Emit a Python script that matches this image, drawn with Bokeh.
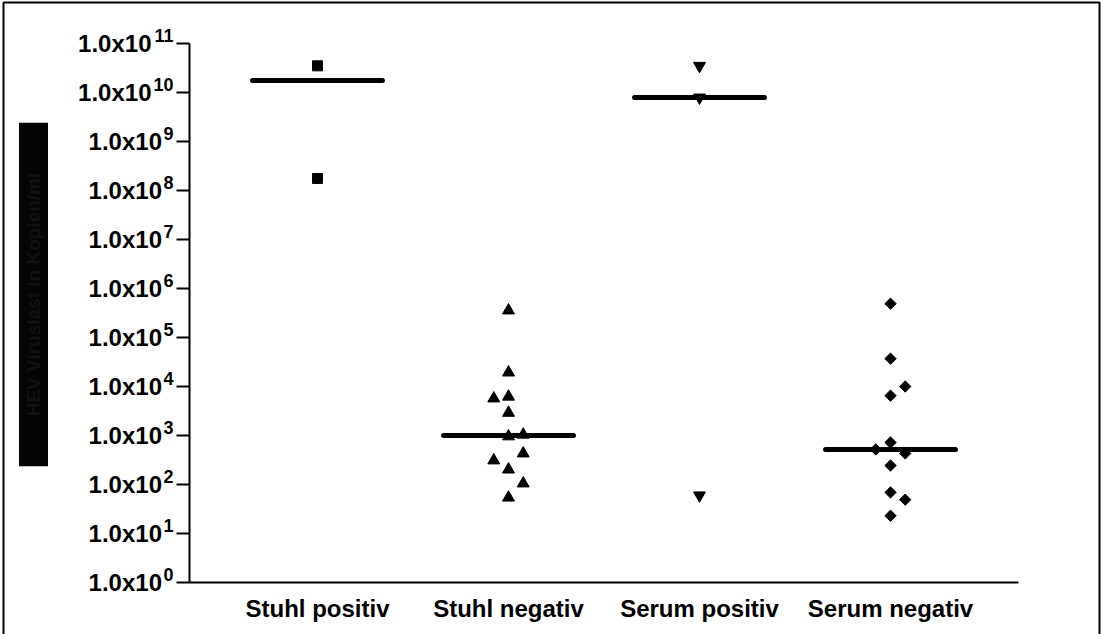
import math
import numpy as np
from bokeh.plotting import figure
from bokeh.models import (Label, BoxAnnotation, FixedTicker, Range1d,
                          CustomJSTickFormatter)
from bokeh.embed import file_html
from bokeh.resources import INLINE

# --- data -------------------------------------------------------------
categories = ["Stuhl positiv", "Stuhl negativ", "Serum positiv", "Serum negativ"]

stuhl_positiv = [3.5e10, 1.76e8]
stuhl_positiv_jit = [0, 0]

stuhl_negativ = [356000, 19300, 5700, 6200, 2900, 960, 1040, 430, 310, 202, 105, 54]
stuhl_negativ_jit = [0, 0, -1, 0, 0, 0, 1, 1, -1, 0, 1, 0]

serum_positiv = [3.5e10, 7.9e9, 60]
serum_positiv_jit = [0, 0, 0]

serum_negativ = [490000, 37000, 10000, 6500, 720, 520, 430, 244, 69, 49, 23]
serum_negativ_jit = [0, 0, 1, 0, 0, -1, 1, 0, 0, 1, 0]

tick_exponents = list(range(0, 12))
tick_base = "1.0x10"
y_label = "HEV Viruslast in Kopien/ml"

# --- geometry (pixels of the page) ------------------------------------
W, H = 1102, 634
X0_PX, X_STEP = 317.0, 191.0          # centre of first column, column spacing
Y_TOP_PX, Y_BOT_PX = 43.0, 582.0      # positions of 10^11 and 10^0
Y_DEC = (Y_BOT_PX - Y_TOP_PX) / 11.0  # pixels per decade
JIT = 0.077


def px_to_x(px):
    return (px - X0_PX) / X_STEP


def py_to_y(py):
    return 10.0 ** (11.0 - (py - Y_TOP_PX) / Y_DEC)


AXIS_X = px_to_x(189)

p = figure(width=W, height=H, output_backend="svg", toolbar_location=None,
           y_axis_type="log",
           x_range=Range1d(px_to_x(0), px_to_x(W)),
           y_range=Range1d(py_to_y(H), py_to_y(0)),
           min_border=0, min_border_left=0, min_border_right=0,
           min_border_top=0, min_border_bottom=0)
p.title.visible = False
p.outline_line_color = None
p.grid.visible = False
p.background_fill_color = "white"
p.border_fill_color = "white"

# y axis: ticks only; labels with superscripts are added below
p.yaxis.fixed_location = AXIS_X
p.yaxis.bounds = (1.0, 1e11)
p.yaxis.ticker = FixedTicker(ticks=[10.0 ** k for k in tick_exponents], minor_ticks=[])
p.yaxis.formatter = CustomJSTickFormatter(code="return ''")
p.yaxis.axis_line_width = 2
p.yaxis.major_tick_line_width = 2
p.yaxis.major_tick_out = 13
p.yaxis.major_tick_in = 0
p.yaxis.minor_tick_out = 0
p.yaxis.minor_tick_in = 0

# x axis: category names
p.xaxis.fixed_location = 1.0
p.xaxis.bounds = (AXIS_X, 3 - AXIS_X)
p.xaxis.ticker = FixedTicker(ticks=list(range(len(categories))))
p.xaxis.major_label_overrides = {i: c for i, c in enumerate(categories)}
p.xaxis.axis_line_width = 2
p.xaxis.major_tick_out = 0
p.xaxis.major_tick_in = 0
p.xaxis.minor_tick_out = 0
p.xaxis.major_label_standoff = 12
p.xaxis.major_label_text_font = "Liberation Sans"
p.xaxis.major_label_text_font_style = "bold"
p.xaxis.major_label_text_font_size = "24px"
p.xaxis.major_label_text_color = "black"

groups = [
    (stuhl_positiv, stuhl_positiv_jit, "square", 10, 0),
    (stuhl_negativ, stuhl_negativ_jit, "triangle", 12, 0),
    (serum_positiv, serum_positiv_jit, "inverted_triangle", 12, 0),
    (serum_negativ, serum_negativ_jit, "square", 8, math.pi / 4),
]

for i, (vals, jit, marker, size, ang) in enumerate(groups):
    xs = [i + j * JIT for j in jit]
    p.scatter(xs, vals, marker=marker, size=size, angle=ang,
              fill_color="black", line_color="black")
    med = float(np.median(vals))
    p.segment(x0=[i - 0.34], x1=[i + 0.34], y0=[med], y1=[med],
              line_color="black", line_width=5, line_cap="round")

# y tick labels with superscript exponents
LABEL_RIGHT = 173
EXP_FS = 18
for k in tick_exponents:
    e = str(k)
    ew = len(e) * 10.5 + 1
    p.add_layout(Label(x=LABEL_RIGHT, x_units="screen", y=10.0 ** k, text=e,
                       text_align="right", text_baseline="middle", y_offset=8,
                       text_font="Liberation Sans", text_font_style="bold",
                       text_font_size=f"{EXP_FS}px", text_color="black"))
    p.add_layout(Label(x=LABEL_RIGHT - ew, x_units="screen", y=10.0 ** k,
                       text=tick_base, text_align="right", text_baseline="middle",
                       text_font="Liberation Sans", text_font_style="bold",
                       text_font_size="24px", text_color="black"))

# axis title in a dark box
p.add_layout(Label(x=33, x_units="screen", y=py_to_y(294), text=y_label,
                   angle=math.pi / 2,
                   text_align="center", text_baseline="middle",
                   text_font="Liberation Sans", text_font_style="bold",
                   text_font_size="19px", text_color="#121212",
                   background_fill_color="#050505",
                   padding=dict(left=50, right=50, top=4, bottom=4)))

# outer frame (open at the bottom edge of the page)
p.add_layout(BoxAnnotation(left=px_to_x(3), right=px_to_x(1099),
                           top=py_to_y(2), bottom=py_to_y(H + 20),
                           fill_alpha=0, line_color="black", line_alpha=1.0,
                           line_width=2))

open("out.html", "w").write(file_html(p, INLINE))
